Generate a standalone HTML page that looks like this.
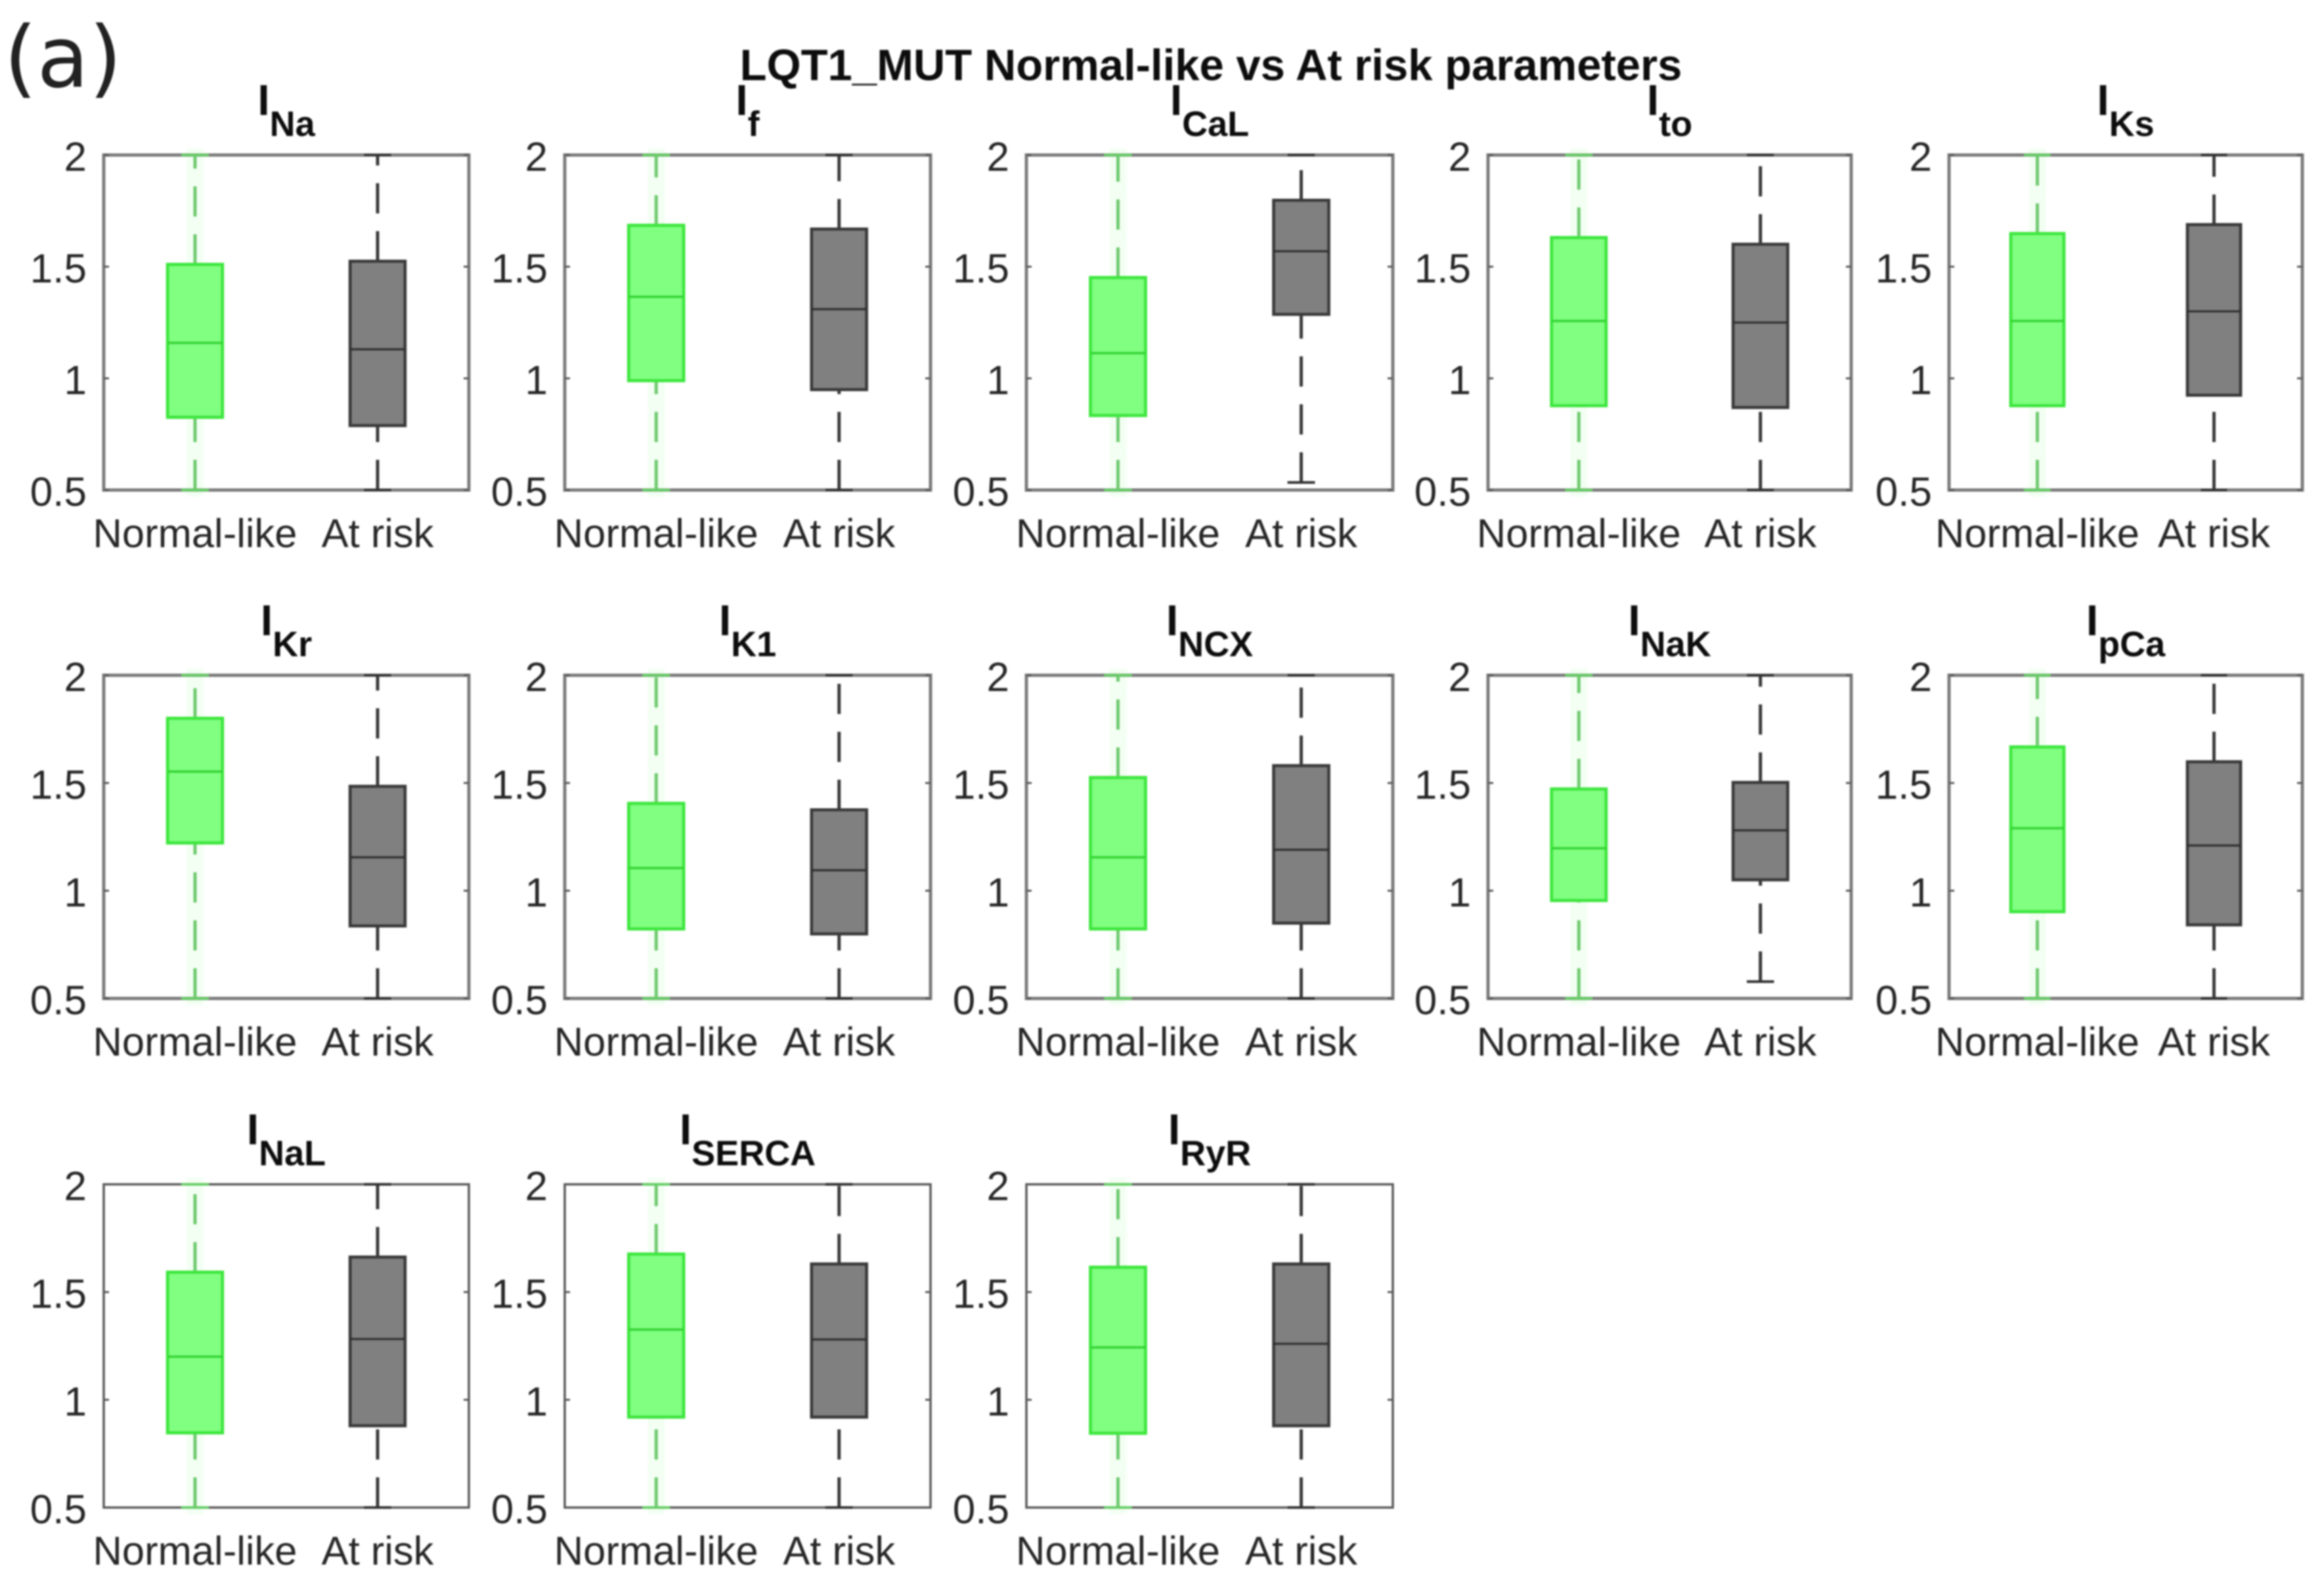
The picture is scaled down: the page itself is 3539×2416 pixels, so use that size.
<!DOCTYPE html>
<html lang="en">
<head>
<meta charset="utf-8">
<title>LQT1_MUT Normal-like vs At risk parameters</title>
<style>
html,body{margin:0;padding:0;background:#fff;width:3539px;height:2416px;overflow:hidden}
svg{display:block;font-family:"Liberation Sans",Arial,sans-serif}
</style>
</head>
<body>
<svg id="figure" xmlns="http://www.w3.org/2000/svg" width="3539" height="2416" viewBox="0 0 3539 2416">
<defs><filter id="soft" x="-2%" y="-2%" width="104%" height="104%"><feGaussianBlur stdDeviation="1.2"/></filter></defs>
<rect width="3539" height="2416" fill="#ffffff"/>
<g id="root" filter="url(#soft)">
<text x="6" y="132" font-size="129" style="font-family:'DejaVu Sans',sans-serif" fill="#222">(a)</text>
<text x="1844" y="122" font-size="67" font-weight="bold" text-anchor="middle" fill="#111">LQT1_MUT Normal-like vs At risk parameters</text>
</g>
</svg>
<script>
// ---- chart data ----
const categories = ['Normal-like', 'At risk'];
const tickValues = [0.5, 1, 1.5, 2];
const tickLabels = ['0.5', '1', '1.5', '2'];
const titleSubscripts = ['Na', 'f', 'CaL', 'to', 'Ks', 'Kr', 'K1', 'NCX', 'NaK', 'pCa', 'NaL', 'SERCA', 'RyR'];

const normalLow    = [0.5, 0.5, 0.5, 0.5, 0.5, 0.5, 0.5, 0.5, 0.5, 0.5, 0.5, 0.5, 0.5];
const normalQ1     = [0.826, 0.99, 0.834, 0.878, 0.878, 1.222, 0.823, 0.823, 0.955, 0.903, 0.847, 0.92, 0.845];
const normalMedian = [1.159, 1.365, 1.113, 1.257, 1.257, 1.553, 1.105, 1.155, 1.197, 1.29, 1.2, 1.326, 1.243];
const normalQ3     = [1.51, 1.685, 1.451, 1.63, 1.648, 1.80, 1.405, 1.525, 1.472, 1.667, 1.592, 1.676, 1.615];
const normalHigh   = [2, 2, 2, 2, 2, 2, 2, 2, 2, 2, 2, 2, 2];

const riskLow    = [0.5, 0.5, 0.534, 0.5, 0.5, 0.5, 0.5, 0.5, 0.578, 0.5, 0.5, 0.5, 0.5];
const riskQ1     = [0.789, 0.95, 1.287, 0.87, 0.925, 0.837, 0.8, 0.85, 1.051, 0.842, 0.88, 0.92, 0.88];
const riskMedian = [1.13, 1.31, 1.569, 1.25, 1.30, 1.155, 1.095, 1.19, 1.28, 1.21, 1.282, 1.28, 1.26];
const riskQ3     = [1.524, 1.668, 1.797, 1.6, 1.688, 1.484, 1.375, 1.58, 1.502, 1.598, 1.662, 1.63, 1.63];
const riskHigh   = [2, 2, 2, 2, 2, 2, 2, 2, 2, 2, 2, 2, 2];

// ---- layout (not data) ----
const layout = {
  columnEdges: [[158, 714], [860, 1417], [1563, 2121], [2266, 2819], [2968, 3506]],
  rowEdges: [[236, 746], [1028, 1520], [1803, 2295]],
  rowFrameWidth: [5, 5, 3.5],
  rowFrameColor: ['#7c7c7c', '#7c7c7c', '#5a5a5a'],
  columnsPerRow: 5,
  yMin: 0.5, yMax: 2, xMin: 0.5, xMax: 2.5, boxWidth: 0.3, capWidth: 0.15
};
const palette = {
  normal: {fill: '#80ff80', edge: '#3ee63e', median: '#32d632', whisker: '#70c970', cap: '#66cc66', halo: 'rgba(120,255,120,0.08)'},
  risk:   {fill: '#808080', edge: '#3a3a3a', median: '#303030', whisker: '#3a3a3a', cap: '#333333', halo: 'none'}
};

const NS = 'http://www.w3.org/2000/svg';
const root = document.getElementById('root');
function make(tag, parent, attrs, text) {
  const node = document.createElementNS(NS, tag);
  for (const key in attrs) node.setAttribute(key, attrs[key]);
  if (text !== undefined) node.textContent = text;
  parent.appendChild(node);
  return node;
}

function drawBox(group, panelX, panelY, cat, stats, colors) {
  const slug = cat === 1 ? 'at-risk' : 'normal-like';
  const cx = panelX(cat + 1);
  const half = panelX(cat + 1 + layout.boxWidth / 2) - cx;
  const capHalf = panelX(cat + 1 + layout.capWidth / 2) - cx;

  if (colors.halo !== 'none') {
    const halo = make('line', group, {x1: cx, x2: cx, y1: panelY(stats.high) - 10, y2: panelY(stats.low) + 10, stroke: colors.halo, 'stroke-width': 26});
    
    
  }

  const dash = {stroke: colors.whisker, 'stroke-width': 5, 'stroke-dasharray': '46 27', x1: cx, x2: cx};
  const upper = make('line', group, Object.assign({y1: panelY(stats.q3), y2: panelY(stats.high)}, dash));
  
  
  const lower = make('line', group, Object.assign({y1: panelY(stats.low), y2: panelY(stats.q1)}, dash));
  
  

  const capStyle = {stroke: colors.cap, 'stroke-width': 4, x1: cx - capHalf, x2: cx + capHalf};
  const capHigh = make('line', group, Object.assign({y1: panelY(stats.high), y2: panelY(stats.high)}, capStyle));
  
  
  const capLow = make('line', group, Object.assign({y1: panelY(stats.low), y2: panelY(stats.low)}, capStyle));
  
  

  const box = make('rect', group, {
    x: cx - half, width: half * 2,
    y: panelY(stats.q3), height: panelY(stats.q1) - panelY(stats.q3),
    fill: colors.fill, stroke: colors.edge, 'stroke-width': 5
  });
  
  

  const median = make('line', group, {
    x1: cx - half, x2: cx + half, y1: panelY(stats.median), y2: panelY(stats.median),
    stroke: colors.median, 'stroke-width': 4
  });
  
  
}

titleSubscripts.forEach(function (sub, i) {
  const col = i % layout.columnsPerRow;
  const row = Math.floor(i / layout.columnsPerRow);
  const [left, right] = layout.columnEdges[col];
  const [top, bottom] = layout.rowEdges[row];
  const panelX = v => left + (v - layout.xMin) / (layout.xMax - layout.xMin) * (right - left);
  const panelY = v => bottom - (v - layout.yMin) / (layout.yMax - layout.yMin) * (bottom - top);

  const group = make('g', root, {});
  
  

  const title = make('text', group, {x: (left + right) / 2, y: top - 61, 'font-size': 66, 'font-weight': 'bold', 'text-anchor': 'middle', fill: '#111'});
  
  
  make('tspan', title, {}, 'I');
  make('tspan', title, {dy: 32, 'font-size': 54}, sub);

  const frame = make('rect', group, {x: left, y: top, width: right - left, height: bottom - top, fill: 'none', stroke: layout.rowFrameColor[row], 'stroke-width': layout.rowFrameWidth[row]});
  
  

  drawBox(group, panelX, panelY, 0, {low: normalLow[i], q1: normalQ1[i], median: normalMedian[i], q3: normalQ3[i], high: normalHigh[i]}, palette.normal);
  drawBox(group, panelX, panelY, 1, {low: riskLow[i], q1: riskQ1[i], median: riskMedian[i], q3: riskQ3[i], high: riskHigh[i]}, palette.risk);

  tickValues.forEach(function (value, t) {
    const y = panelY(value);
    const tickLeft = make('line', group, {x1: left, x2: left + 8, y1: y, y2: y, stroke: '#5a5a5a', 'stroke-width': 3});
    
    
    const tickRight = make('line', group, {x1: right - 8, x2: right, y1: y, y2: y, stroke: '#5a5a5a', 'stroke-width': 3});
    
    
    const label = make('text', group, {x: left - 26, y: y + 24, 'font-size': 62, 'text-anchor': 'end', fill: '#262626'}, tickLabels[t]);
    
    
  });

  categories.forEach(function (name, c) {
    const label = make('text', group, {x: panelX(c + 1), y: bottom + 87, 'font-size': 61.5, 'text-anchor': 'middle', fill: '#262626'}, name);
    
    
  });
});
</script>
</body>
</html>
